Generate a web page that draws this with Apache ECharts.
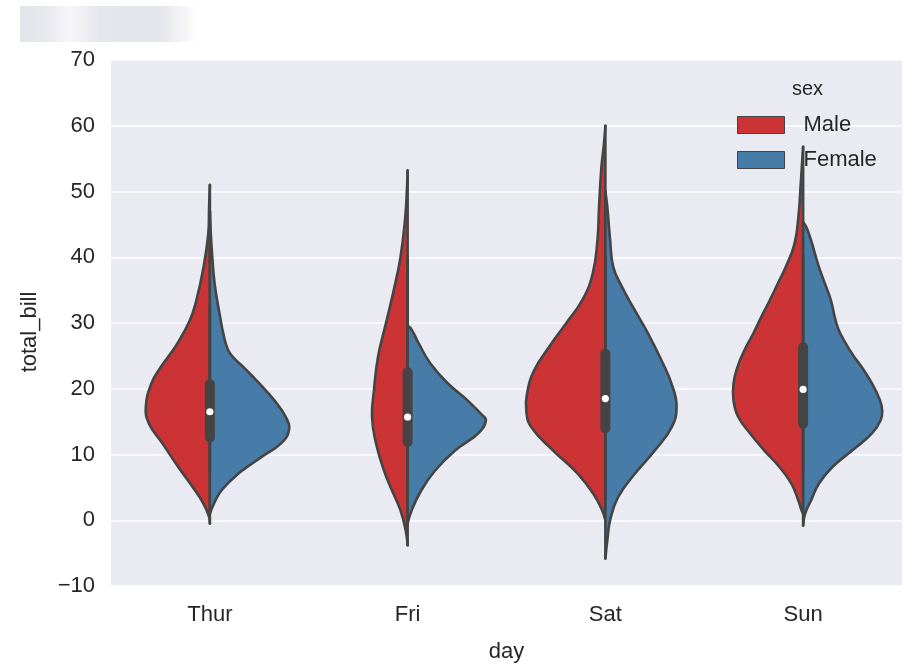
<!DOCTYPE html>
<html><head><meta charset="utf-8">
<script src="https://cdn.jsdelivr.net/npm/echarts@6/dist/echarts.min.js"></script>
<style>html,body{margin:0;padding:0;background:#fff}#c{width:905px;height:671px}</style>
</head><body><div id="c"></div>
<script>
const days = ['Thur', 'Fri', 'Sat', 'Sun'];
const sexes = ['Male', 'Female'];
const yTicks = [-10, 0, 10, 20, 30, 40, 50, 60, 70];

// Violin outlines: total_bill values (bottom -> top) and relative half-width density
const thurMaleBill = [-0.5, 0.5, 2.5, 5.1, 8.1, 11.7, 14.7, 17.2, 20.8, 23.3, 26.9, 30.5, 33.5, 38.5, 43.6, 47.5, 51.0];
const thurMaleDens = [0, 0.01, 0.08, 0.22, 0.40, 0.60, 0.77, 0.81, 0.74, 0.62, 0.41, 0.25, 0.17, 0.08, 0.02, 0.01, 0];
const thurFemaleBill = [1.0, 2.5, 4.6, 7.1, 9.6, 11.7, 13.7, 15.7, 18.3, 20.8, 23.1, 24.6, 25.9, 28.4, 30.9, 36.0, 41.0, 44.0, 47.0];
const thurFemaleDens = [0, 0.05, 0.15, 0.36, 0.65, 0.90, 1.0, 0.96, 0.81, 0.625, 0.44, 0.31, 0.23, 0.17, 0.13, 0.06, 0.025, 0.01, 0];
const friMaleBill = [-3.8, -1.5, 1.5, 4.6, 7.6, 11.7, 15.7, 19.8, 24.8, 29.9, 35.0, 40.0, 46.1, 50.0, 53.2];
const friMaleDens = [0, 0.025, 0.09, 0.2, 0.3, 0.4, 0.45, 0.425, 0.375, 0.275, 0.175, 0.09, 0.03, 0.01, 0];
const friFemaleBill = [-0.5, 1.5, 4.6, 7.6, 10.6, 13.2, 15.2, 16.2, 18.2, 20.8, 23.8, 26.9, 29.0, 29.6];
const friFemaleDens = [0, 0.05, 0.175, 0.35, 0.6, 0.89, 0.99, 0.925, 0.76, 0.51, 0.29, 0.14, 0.05, 0];
const satMaleBill = [0, 1.5, 4.0, 7.1, 10.6, 14.2, 16.7, 19.3, 22.8, 26.4, 29.9, 33.5, 37.5, 42.6, 47.6, 53.7, 57.0, 60.0];
const satMaleDens = [0, 0.04, 0.15, 0.35, 0.66, 0.94, 1.0, 0.99, 0.9, 0.71, 0.5, 0.29, 0.16, 0.1, 0.08, 0.05, 0.02, 0];
const satFemaleBill = [-5.8, -3.0, 0, 3.5, 7.1, 10.6, 14.2, 17.2, 20.3, 24.3, 28.4, 32.4, 35.5, 38.5, 42.6, 47.6, 50.0];
const satFemaleDens = [0, 0.025, 0.06, 0.16, 0.375, 0.625, 0.84, 0.9, 0.85, 0.71, 0.54, 0.35, 0.21, 0.1, 0.06, 0.025, 0];
const sunMaleBill = [1.0, 1.5, 3.0, 5.6, 8.1, 10.6, 13.2, 15.7, 18.2, 20.8, 23.3, 25.9, 28.4, 30.9, 33.5, 36.0, 38.5, 42.0, 46.1, 51.2, 56.8];
const sunMaleDens = [0, 0.02, 0.06, 0.15, 0.30, 0.49, 0.67, 0.82, 0.88, 0.88, 0.83, 0.74, 0.63, 0.53, 0.42, 0.32, 0.22, 0.11, 0.06, 0.03, 0];
const sunFemaleBill = [-0.8, 1.0, 3.0, 5.6, 8.1, 10.6, 13.2, 15.2, 16.7, 18.3, 20.8, 23.3, 25.3, 28.4, 30.4, 33.5, 36.0, 38.5, 40.5, 42.6, 44.6, 45.3];
const sunFemaleDens = [0, 0.025, 0.10, 0.20, 0.37, 0.62, 0.87, 0.98, 1.0, 0.97, 0.87, 0.74, 0.62, 0.47, 0.41, 0.35, 0.275, 0.20, 0.15, 0.10, 0.04, 0];

// Inner box stats per day
const q1 = [12.6, 11.9, 14.0, 14.7];
const median = [16.5, 15.7, 18.5, 19.9];
const q3 = [20.7, 22.5, 25.3, 26.3];
const whiskLo = [7.5, 5.8, 3.1, 7.3];
const whiskHi = [32.7, 40.2, 40.2, 40.5];

const maleBill = [thurMaleBill, friMaleBill, satMaleBill, sunMaleBill];
const maleDens = [thurMaleDens, friMaleDens, satMaleDens, sunMaleDens];
const femaleBill = [thurFemaleBill, friFemaleBill, satFemaleBill, sunFemaleBill];
const femaleDens = [thurFemaleDens, friFemaleDens, satFemaleDens, sunFemaleDens];

const RED = '#cb3335', BLUE = '#477ca8', EDGE = '#444444';
const FONT = '"Liberation Sans", Arial, sans-serif';
const TXT = '#262626';

function violinRenderer(bills, dens, side, color) {
  return function (params, api) {
    const i = params.dataIndex;
    const band = api.size([1, 0])[0];
    const half = 0.4 * band;
    const cx = api.coord([i, 0])[0];
    const v = bills[i], d = dens[i];
    const outline = [];
    for (let k = 0; k < v.length; k++) {
      const y = api.coord([i, v[k]])[1];
      outline.push([cx + side * d[k] * half, y]);
    }
    const yTop = api.coord([i, v[v.length - 1]])[1];
    const yBot = api.coord([i, v[0]])[1];
    return {
      type: 'group',
      children: [
        { type: 'polyline', shape: { points: outline, smooth: 0.45 },
          style: { fill: color, stroke: null, lineWidth: 0 } },
        { type: 'polyline', shape: { points: outline, smooth: 0.45 },
          style: { fill: null, stroke: EDGE, lineWidth: 2.6, lineJoin: 'round', lineCap: 'round' } },
        { type: 'line', shape: { x1: cx, y1: yBot, x2: cx, y2: yTop },
          style: { stroke: EDGE, lineWidth: 2.6, lineCap: 'round' } }
      ]
    };
  };
}

function boxRenderer(params, api) {
  const i = params.dataIndex;
  const cx = api.coord([i, 0])[0];
  const yLo = api.coord([i, whiskLo[i]])[1];
  const yHi = api.coord([i, whiskHi[i]])[1];
  const y1 = api.coord([i, q1[i]])[1];
  const y3 = api.coord([i, q3[i]])[1];
  const ym = api.coord([i, median[i]])[1];
  return {
    type: 'group',
    children: [
      { type: 'line', shape: { x1: cx, y1: yLo, x2: cx, y2: yHi }, style: { stroke: EDGE, lineWidth: 2.6 } },
      { type: 'line', shape: { x1: cx, y1: y1, x2: cx, y2: y3 }, style: { stroke: EDGE, lineWidth: 10, lineCap: 'round' } },
      { type: 'circle', shape: { cx: cx, cy: ym, r: 3.6 }, style: { fill: '#ffffff' } }
    ]
  };
}

const chart = echarts.init(document.getElementById('c'), null, { renderer: 'canvas' });
const dayData = days.map((d, i) => [i, median[i]]);

chart.setOption({
  animation: false,
  backgroundColor: '#ffffff',
  textStyle: { fontFamily: FONT },
  grid: { left: 111, right: 3, top: 60, bottom: 85, show: true, backgroundColor: '#eaeaf2', borderWidth: 0 },
  graphic: [
    {
      type: 'rect', left: 20, top: 6, shape: { width: 177, height: 36 },
      style: {
        fill: new echarts.graphic.LinearGradient(0, 0, 1, 0, [
          { offset: 0, color: '#e3e3eb' }, { offset: 0.15, color: '#e8e8ef' },
          { offset: 0.28, color: '#f6f6f9' }, { offset: 0.45, color: '#e6e6ee' },
          { offset: 0.8, color: '#e5e5ed' }, { offset: 1, color: '#ffffff' }
        ])
      }, z: -1
    },
    {
      type: 'text', left: 792, top: 79,
      style: { text: 'sex', fontSize: 20, fontFamily: FONT, fill: TXT }
    }
  ],
  legend: {
    data: sexes, orient: 'vertical', left: 737, top: 114, padding: 0,
    itemWidth: 47, itemHeight: 17, itemGap: 13,
    icon: 'rect',
    itemStyle: { borderColor: EDGE, borderWidth: 1 },
    textStyle: { fontSize: 22, color: TXT, fontFamily: FONT, padding: [0, 0, 0, 14] },
    selectedMode: false
  },
  xAxis: {
    type: 'category', data: days, boundaryGap: true,
    name: 'day', nameLocation: 'middle', nameGap: 55,
    nameTextStyle: { fontSize: 22, color: TXT, fontFamily: FONT },
    axisLine: { show: false }, axisTick: { show: false }, splitLine: { show: false },
    axisLabel: { fontSize: 22, color: TXT, margin: 18, fontFamily: FONT }
  },
  yAxis: {
    type: 'value', min: yTicks[0], max: yTicks[yTicks.length - 1], interval: 10,
    name: 'total_bill', nameLocation: 'middle', nameGap: 70,
    nameTextStyle: { fontSize: 22, color: TXT, fontFamily: FONT, padding: [0, 18, 0, 0] },
    axisLine: { show: false }, axisTick: { show: false },
    splitLine: { show: true, lineStyle: { color: '#ffffff', width: 1.6 } },
    axisLabel: { fontSize: 22, color: TXT, margin: 16, fontFamily: FONT,
      formatter: v => String(v).replace('-', '\u2212') }
  },
  series: [
    { name: 'Male', type: 'custom', renderItem: violinRenderer(maleBill, maleDens, -1, RED),
      itemStyle: { color: RED }, data: dayData, encode: { x: 0, y: 1 }, z: 2, silent: true },
    { name: 'Female', type: 'custom', renderItem: violinRenderer(femaleBill, femaleDens, 1, BLUE),
      itemStyle: { color: BLUE }, data: dayData, encode: { x: 0, y: 1 }, z: 2, silent: true },
    { name: 'box', type: 'custom', renderItem: boxRenderer, data: dayData, encode: { x: 0, y: 1 }, z: 3, silent: true }
  ]
});
</script>
</body></html>
